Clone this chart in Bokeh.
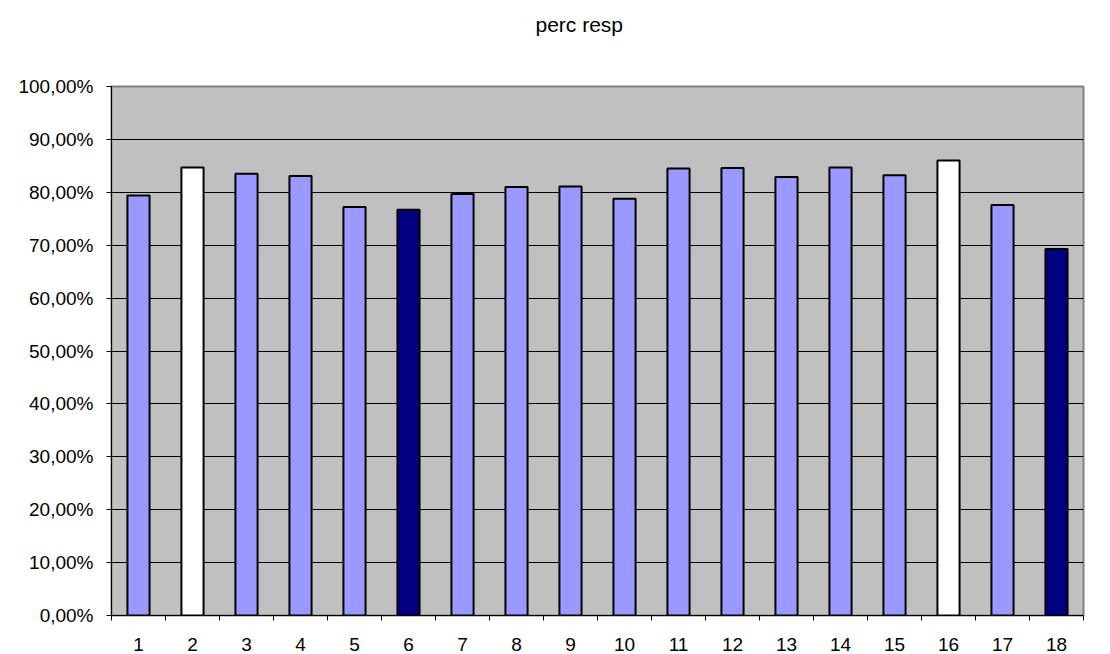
from bokeh.plotting import figure
from bokeh.models import ColumnDataSource, FixedTicker
from bokeh.embed import file_html
from bokeh.resources import INLINE

# ---- data ----
categories = [str(i) for i in range(1, 19)]
values = [0.794, 0.847, 0.835, 0.831, 0.772, 0.767, 0.797, 0.810, 0.811,
          0.788, 0.845, 0.846, 0.829, 0.847, 0.832, 0.860, 0.776, 0.693]
groups = ["base", "white", "base", "base", "base", "dark", "base", "base", "base",
          "base", "base", "base", "base", "base", "base", "white", "base", "dark"]
group_colors = {"base": "#9999FF", "white": "#FFFFFF", "dark": "#000080"}
y_ticks = [0.0, 0.1, 0.2, 0.3, 0.4, 0.5, 0.6, 0.7, 0.8, 0.9, 1.0]
y_tick_labels = ["0,00%", "10,00%", "20,00%", "30,00%", "40,00%", "50,00%",
                 "60,00%", "70,00%", "80,00%", "90,00%", "100,00%"]
title_text = "perc resp"

xs = list(range(1, len(categories) + 1))
src = ColumnDataSource(dict(x=xs, top=values,
                            color=[group_colors[g] for g in groups]))

FONT = "Liberation Sans"

p = figure(width=1110, height=654, output_backend="svg", toolbar_location=None,
           x_range=(0.5, len(categories) + 0.5), y_range=(0, 1),
           min_border_left=111, min_border_right=27, min_border_top=86,
           min_border_bottom=39)
p.background_fill_color = "#C0C0C0"
p.border_fill_color = "white"
p.outline_line_color = "#808080"
p.outline_line_width = 2

p.vbar(x="x", top="top", width=0.41, bottom=0, source=src,
       fill_color="color", line_color="black", line_width=2)

# title: two trailing blank lines keep the text near the top of the chart
p.title.text = title_text + "\n\n"
p.title.align = "left"
p.title.offset = 424
p.title.standoff = 6
p.title.vertical_align = "top"
p.title.text_font = FONT
p.title.text_font_size = "21px"
p.title.text_font_style = "normal"
p.title.text_color = "black"

# y axis
p.yaxis.ticker = FixedTicker(ticks=y_ticks)
p.yaxis.major_label_overrides = {t: l for t, l in zip(y_ticks, y_tick_labels)}
p.yaxis.major_tick_out = 5
p.yaxis.major_tick_in = 0
p.yaxis.minor_tick_line_color = None
p.yaxis.axis_line_color = "black"
p.yaxis.major_label_standoff = 13
p.yaxis.major_label_text_font = FONT
p.yaxis.major_label_text_font_size = "19px"
p.yaxis.major_label_text_color = "black"

# x axis: labels at centres, ticks between categories
p.xaxis.ticker = FixedTicker(ticks=xs, minor_ticks=[i + 0.5 for i in range(0, len(categories) + 1)])
p.xaxis.major_label_overrides = {x: c for x, c in zip(xs, categories)}
p.xaxis.major_tick_out = 0
p.xaxis.major_tick_in = 0
p.xaxis.minor_tick_out = 5
p.xaxis.minor_tick_in = 0
p.xaxis.minor_tick_line_color = "black"
p.xaxis.axis_line_color = "black"
p.xaxis.major_label_standoff = 17
p.xaxis.major_label_text_font = FONT
p.xaxis.major_label_text_font_size = "19px"
p.xaxis.major_label_text_color = "black"

p.xgrid.grid_line_color = None
p.ygrid.ticker = FixedTicker(ticks=y_ticks)
p.ygrid.grid_line_color = "black"
p.ygrid.grid_line_width = 1

open("out.html", "w").write(file_html(p, INLINE))
